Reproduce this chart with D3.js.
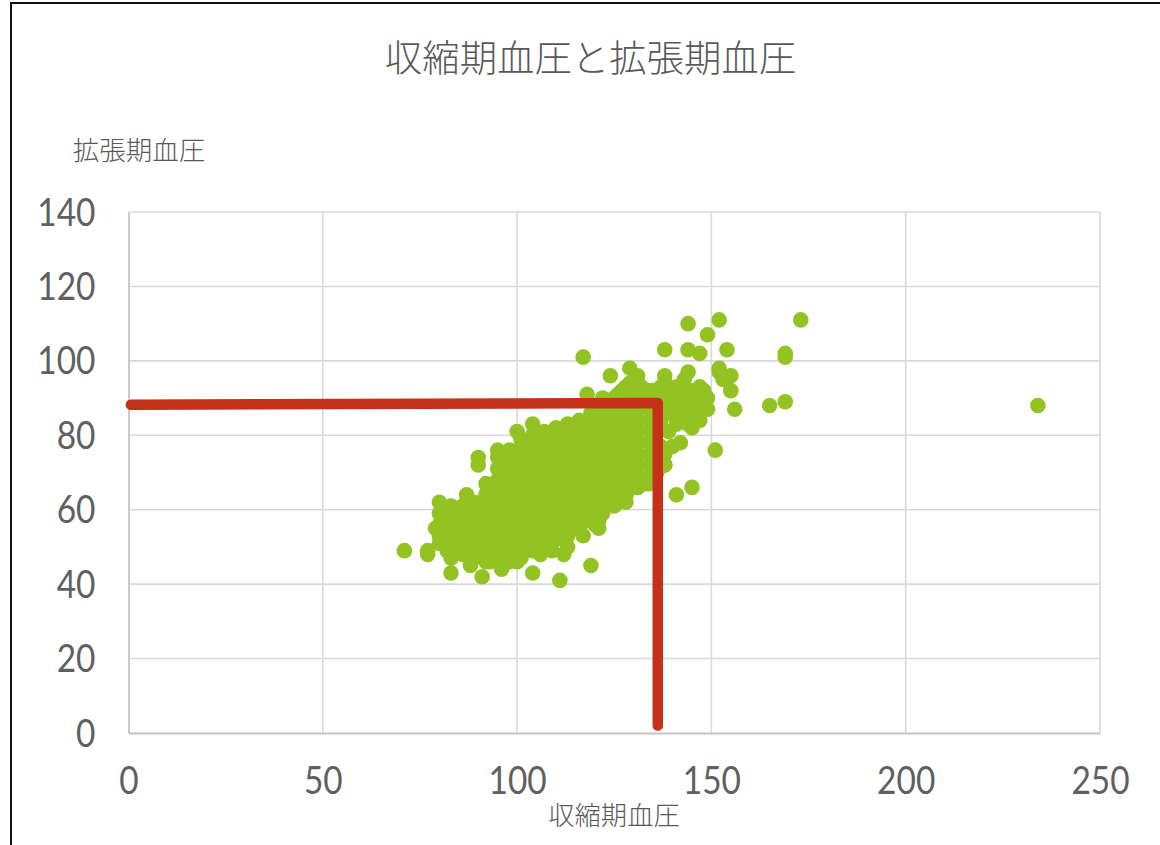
<!DOCTYPE html>
<html><head><meta charset="utf-8">
<script src="https://cdnjs.cloudflare.com/ajax/libs/d3/7.8.5/d3.min.js"></script>
<style>html,body{margin:0;padding:0;background:#fff;overflow:hidden}svg{display:block}</style>
</head><body><svg id="c" width="1160" height="845"></svg>
<script>
const titleText = "収縮期血圧と拡張期血圧";
const xLabelText = "収縮期血圧";
const yLabelText = "拡張期血圧";
const xTicks = [0, 50, 100, 150, 200, 250];
const yTicks = [0, 20, 40, 60, 80, 100, 120, 140];
// dense core
const coreSystolic = [80, 83, 86, 89, 92, 95, 98, 101, 104, 107, 110, 113, 116, 119, 122, 125, 128, 131, 134];
const coreDiastolic = [
  [53,56,59],
  [47,50,53,56,59,61],
  [49,52,55,58,61],
  [47,50,53,56,59,62],
  [49,52,55,58,61,64,67],
  [47,50,53,56,59,62,65,68,71,74,76],
  [46,49,52,55,58,61,64,67,70,73,76],
  [47,50,53,56,59,62,65,68,71,74,77,79],
  [49,52,55,58,61,64,67,70,73,76,79,80],
  [51,54,57,60,63,66,69,72,75,78,81],
  [52,55,58,61,64,67,70,73,76,79,82],
  [53,56,59,62,65,68,71,74,77,80,83],
  [55,58,61,64,67,70,73,76,79,82,84],
  [57,60,63,66,69,72,75,78,81,84,86],
  [59,62,65,68,71,74,77,80,83,86,88],
  [63,66,69,72,75,78,81,84,87,90],
  [64,67,70,73,76,79,82,85,88,91],
  [66,69,72,75,78,81,84,87,90],
  [69,72,75,78,81,84,87,90]
];
// individually readable points
const edgeSystolic = [71,77,77,83,91,96,104,111,119,112,80,87,90,90,100,104,92,96,100,88,86,80,82,85,79,117,118,124,129,131,138,144,141,143,147,148,149,149,145,145,143,140,146,139,142,137,135,147,151,145,141,142,140,138,138,144,152,149,138,144,147,154,169,169,173,234,165,169,156,152,155,153,155,152,133,136,127,124,121,116,137,139,141,143,145,147,146,144,142,140,143,146,141,144,139,146,138,140,134,132,128,126,122,130,127,129,133,135,137,136,138,137,134,131,120,125,128,106,109,113,117,121,125,128,84,93,108];
const edgeDiastolic = [49,48,49,43,42,44,43,41,45,48,62,64,72,74,81,83,46,47,46,45,48,51,49,49,55,101,91,96,98,96,96,97,93,95,93,92,90,87,82,89,85,90,88,86,84,84,88,84,76,66,64,78,77,72,75,91,111,107,103,103,102,103,102,101,111,88,88,89,87,98,96,95,92,97,67,70,63,63,57,55,92,93,90,92,92,91,89,88,87,86,85,86,83,83,81,84,89,92,92,93,93,91,90,92,92,94,92,92,93,74,72,77,67,66,56,62,64,48,49,50,53,55,61,62,51,46,50];
const edgeTop = [110];
const edgeTopX = [144];
const refSystolic = [0.6, 136.2, 136.2];
const refDiastolic = [88.2, 88.7, 2];

const svg = d3.select("#c");
const x = d3.scaleLinear().domain([0, 250]).range([128.5, 1100]);
const y = d3.scaleLinear().domain([0, 140]).range([733, 212]);
const sans = "'Noto Sans CJK JP','Noto Sans',sans-serif";
const num = "'Lato','Noto Sans',sans-serif";

svg.append("path").attr("d","M11,845V3H1160").attr("fill","none").attr("stroke","#111").attr("stroke-width",2);

svg.append("g").selectAll("line").data(xTicks.slice(1)).join("line")
  .attr("x1",d=>x(d)).attr("x2",d=>x(d)).attr("y1",y(140)).attr("y2",y(0))
  .attr("stroke","#d9d9d9").attr("stroke-width",1.6);
svg.append("g").selectAll("line").data(yTicks.slice(1)).join("line")
  .attr("x1",x(0)).attr("x2",x(250)).attr("y1",d=>y(d)).attr("y2",d=>y(d))
  .attr("stroke","#d9d9d9").attr("stroke-width",1.6);

const ax = d3.axisBottom(x).tickValues(xTicks).tickSize(0).tickPadding(0).tickFormat(d3.format("d"));
const gx = svg.append("g").attr("transform",`translate(0,${y(0)})`).call(ax);
gx.select(".domain").attr("stroke","#c4c4c4").attr("stroke-width",1.8);
gx.selectAll("text").attr("y",61).attr("dy",0).attr("font-family",num).attr("font-size",38).attr("fill","#606060").attr("text-anchor","middle")
  .style("transform-box","fill-box").style("transform-origin","center").style("transform","scaleX(0.88)");
const ay = d3.axisLeft(y).tickValues(yTicks).tickSize(0).tickPadding(0).tickFormat(d3.format("d"));
const gy = svg.append("g").attr("transform",`translate(${x(0)},0)`).call(ay);
gy.select(".domain").attr("stroke","#c4c4c4").attr("stroke-width",1.8);
gy.selectAll("text").attr("x",-33).attr("dy",13).attr("font-family",num).attr("font-size",38).attr("fill","#606060").attr("text-anchor","end")
  .style("transform-box","fill-box").style("transform-origin","right center").style("transform","scaleX(0.88)");

const pts = [];
coreSystolic.forEach((s,i)=>coreDiastolic[i].forEach(d=>pts.push([s,d])));
edgeSystolic.forEach((s,i)=>pts.push([s,edgeDiastolic[i]]));
edgeTopX.forEach((s,i)=>pts.push([s,edgeTop[i]]));
svg.append("g").selectAll("circle").data(pts).join("circle")
  .attr("cx",d=>x(d[0])).attr("cy",d=>y(d[1])).attr("r",7.8).attr("fill","#92c323");

svg.append("path").datum(refSystolic.map((s,i)=>[s,refDiastolic[i]]))
  .attr("d",d3.line().x(d=>x(d[0])).y(d=>y(d[1])))
  .attr("fill","none").attr("stroke","#c43018").attr("stroke-width",10.5)
  .attr("stroke-linecap","round").attr("stroke-linejoin","round");

svg.append("text").attr("x",590.5).attr("y",72).attr("text-anchor","middle").attr("font-family",sans).attr("font-size",37.4).attr("font-weight",300).attr("fill","#595959").text(titleText);
svg.append("text").attr("x",139).attr("y",160).attr("text-anchor","middle").attr("font-family",sans).attr("font-size",26.5).attr("font-weight",300).attr("fill","#595959").text(yLabelText);
svg.append("text").attr("x",614).attr("y",825).attr("text-anchor","middle").attr("font-family",sans).attr("font-size",26.3).attr("font-weight",300).attr("fill","#595959").text(xLabelText);
</script></body></html>
